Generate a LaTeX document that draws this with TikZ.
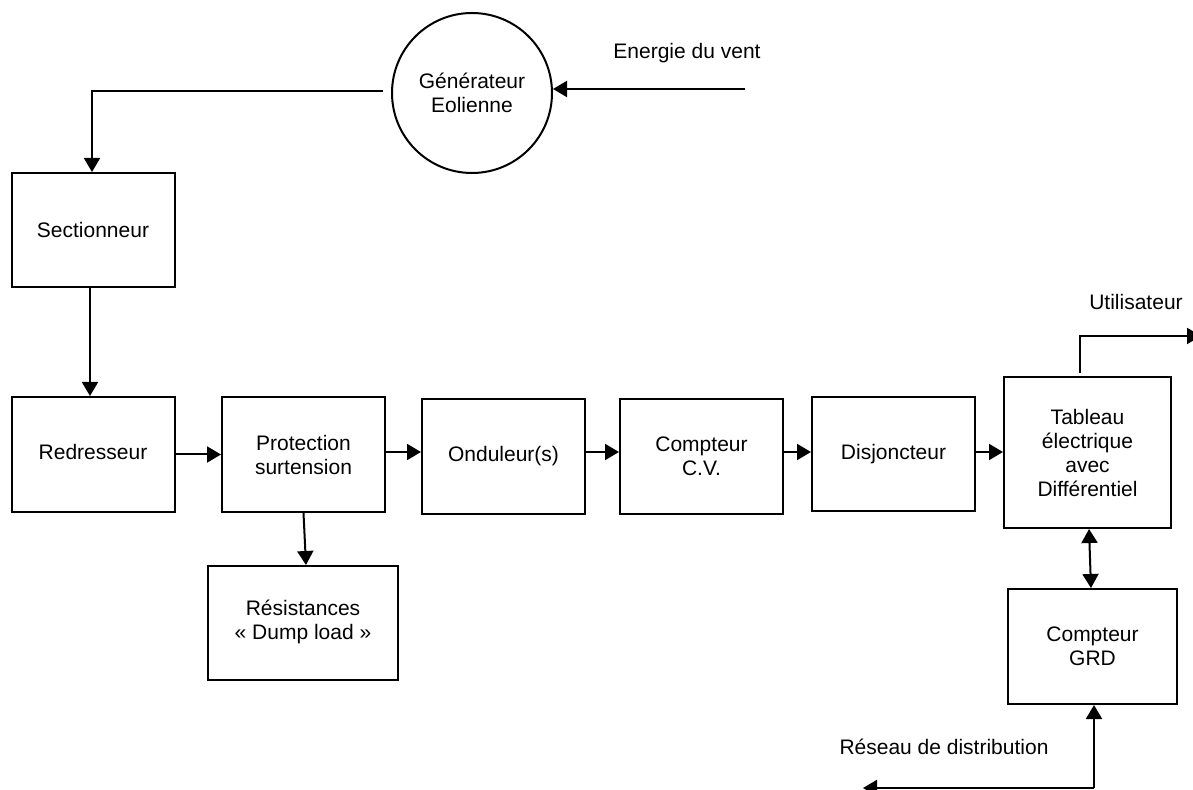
\documentclass[tikz,border=0pt]{standalone}
\usepackage{fontspec}
\setmainfont{Liberation Sans}
\usetikzlibrary{arrows.meta}
\begin{document}
\begin{tikzpicture}[x=0.5pt,y=-0.5pt,
  every node/.style={font=\fontsize{10.5}{12}\selectfont, align=center, inner sep=0pt},
  blk/.style={draw, line width=1pt, rectangle, minimum width=81.5pt, minimum height=57.5pt},
  arr/.style={line width=1pt, -{Triangle[length=7pt,width=8pt]}},
  darr/.style={line width=1pt, {Triangle[length=7pt,width=8pt]}-{Triangle[length=7pt,width=8pt]}},
  ln/.style={line width=1pt}]
\useasboundingbox (0,0) rectangle (1193,790);
% nodes
\node[draw, circle, line width=1pt, minimum size=80pt] (Gen) at (472,93) {Générateur\\Eolienne};
\node[blk, minimum height=57pt] (Sect) at (93,230) {Sectionneur};
\node[blk] (Redr) at (93,454.5) {\raisebox{3pt}{Redresseur}};
\node[blk] (Prot) at (303.5,454.5) {Protection\\surtension};
\node[blk] (Ond) at (503.5,456.5) {Onduleur(s)};
\node[blk] (CV) at (701.5,456.5) {Compteur\\C.V.};
\node[blk, minimum height=57pt] (Disj) at (893.5,454) {Disjoncteur};
\node[blk, minimum width=83.5pt, minimum height=75.5pt] (Tab) at (1087.5,452.5) {Tableau\\électrique\\avec\\Différentiel};
\node[blk, minimum width=84.5pt] (GRD) at (1092.5,646.5) {Compteur\\GRD};
\node[blk, minimum width=95pt, minimum height=57pt] (Res) at (303,623) {\raisebox{3pt}{\begin{tabular}{@{}c@{}}Résistances\\« Dump load »\end{tabular}}};
% labels
\node (lwind) at (687,53) {Energie du vent};
\node (luser) at (1136,302) {Utilisateur};
\node (lgrid) at (944,747) {Réseau de distribution};
% free ends
\coordinate (wind) at (745,89);
\coordinate (user) at (1201,336);
\coordinate (grid) at (863,788);
\coordinate (gc) at (1094,788);
% connectors
\draw[arr] (wind) -- (Gen.east |- wind);
\draw[arr] ([xshift=-4pt,yshift=1pt]Gen.west) -| (Sect.north -| 92,0);
\draw[arr] (Sect.south -| 90,0) -- (Redr.north -| 90,0);
\draw[arr] (Redr.east) -- (Prot.west);
\draw[arr] (Prot.east |- 0,452) -- (Ond.west |- 0,452);
\draw[arr] (Ond.east |- 0,452) -- (CV.west |- 0,452);
\draw[arr] (CV.east |- 0,452) -- (Disj.west |- 0,452);
\draw[arr] (Disj.east |- 0,452) -- (Tab.west |- 0,452);
\draw[arr] (Prot.south) -- ([xshift=1.5pt]Res.north);
\draw[arr] ([yshift=1.5pt]Tab.north -| 1080,0) |- (user);
\draw[darr] ([xshift=0.75pt]Tab.south) -- ([xshift=-0.75pt]GRD.north);
\draw[arr] (gc) -- (GRD.south -| gc);
\draw[arr] (gc) -- (grid);
\end{tikzpicture}
\end{document}
